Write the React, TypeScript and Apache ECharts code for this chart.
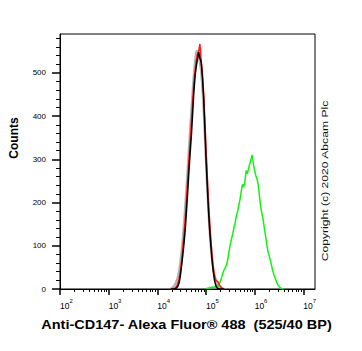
import React, { useEffect, useRef } from "react";
import * as echarts from "echarts";

// Axis structure
const xTickExponents = [2, 3, 4, 5, 6, 7];
const xMinorMultipliers = [2, 3, 4, 5, 6, 7, 8, 9];
const xMinorDecades = [2, 3, 4, 5, 6];
const yTickValues = [0, 100, 200, 300, 400, 500];
const yMinorTickValues = [
  20, 40, 60, 80, 120, 140, 160, 180, 220, 240, 260, 280,
  320, 340, 360, 380, 420, 440, 460, 480, 520, 540, 560, 580,
];

// Histogram bins (log10 of fluorescence) and counts
const histLog = [
  4.275, 4.3, 4.325, 4.35, 4.375, 4.4, 4.425, 4.45, 4.475, 4.5, 4.525, 4.55,
  4.575, 4.6, 4.625, 4.65, 4.675, 4.7, 4.725, 4.75, 4.775, 4.8, 4.825, 4.85,
  4.875, 4.9, 4.925, 4.95, 4.975, 5.0, 5.025, 5.05, 5.075, 5.1, 5.125, 5.15,
  5.175, 5.2, 5.225, 5.25, 5.275, 5.3, 5.325, 5.35, 5.375,
];
const grayCounts = [
  0, 2, 4, 8, 12, 19, 28, 42, 62, 86, 114, 150, 190, 232, 276, 322, 366, 409,
  452, 492, 524, 548, 552, 540, 526, 506, 472, 424, 364, 300, 240, 185, 137, 99,
  69, 46, 31, 21, 14, 9, 6, 4, 2, 1, 0,
];
const redCounts = [
  0, 0, 0, 1, 3, 7, 14, 25, 42, 66, 96, 128, 164, 209, 254, 300, 342, 386,
  432, 474, 504, 528, 544, 550, 567, 530, 502, 456, 394, 324, 262, 204, 154, 113,
  77, 49, 31, 21, 18, 16, 10, 5, 2, 0, 0,
];
const blackCounts = [
  0, 0, 0, 0, 1, 3, 7, 15, 32, 55, 80, 108, 140, 182, 226, 274, 316, 356,
  405, 455, 492, 515, 532, 548, 534, 526, 492, 446, 376, 304, 242, 184, 138, 100,
  66, 40, 20, 9, 3, 1, 0, 0, 0, 0, 0,
];
const greenLog = [
  5.0, 5.025, 5.05, 5.075, 5.1, 5.125, 5.15, 5.175, 5.2, 5.225, 5.25, 5.275,
  5.3, 5.325, 5.35, 5.375, 5.4, 5.425, 5.45, 5.475, 5.5, 5.525, 5.55, 5.575,
  5.6, 5.625, 5.65, 5.675, 5.7, 5.725, 5.75, 5.775, 5.8, 5.825, 5.85, 5.875,
  5.9, 5.925, 5.95, 5.975, 6.0, 6.025, 6.05, 6.075, 6.1, 6.125, 6.15, 6.175,
  6.2, 6.225, 6.25, 6.275, 6.3, 6.325, 6.35, 6.375, 6.4, 6.425, 6.45, 6.475,
  6.5, 6.525, 6.55, 6.575, 6.6,
];
const greenCounts = [
  0, 2, 1, 4, 2, 5, 3, 6, 4, 8, 6, 12, 19, 28, 38, 45, 50, 57, 70, 88, 104,
  116, 128, 142, 154, 170, 179, 194, 208, 226, 242, 236, 250, 274, 266, 279,
  290, 300, 310, 288, 274, 262, 254, 240, 214, 190, 174, 160, 140, 122, 102,
  86, 76, 65, 53, 41, 32, 24, 16, 10, 6, 3, 1, 0, 0,
];

const xTitle = "Anti-CD147- Alexa Fluor® 488  (525/40 BP)";
const yTitle = "Counts";
const copyright = "Copyright (c) 2020 Abcam Plc";

const FONT = '"Liberation Sans", Arial, Helvetica, sans-serif';

export default function App() {
  const ref = useRef<HTMLDivElement>(null);

  useEffect(() => {
    if (!ref.current) return;
    const chart = echarts.init(ref.current, undefined, { renderer: "svg" });

    const xMinorTicks: number[] = [];
    xMinorDecades.forEach((d) =>
      xMinorMultipliers.forEach((m) => xMinorTicks.push(d + Math.log10(m)))
    );

    const pairs = (xs: number[], ys: number[]) => xs.map((x, i) => [x, ys[i]]);

    const lineSeries = (name: string, data: number[][], color: string, width: number, opacity = 1) => ({
      name,
      type: "line",
      data,
      showSymbol: false,
      symbol: "none",
      silent: true,
      xAxisIndex: 0,
      yAxisIndex: 0,
      lineStyle: { color, width, opacity },
    });

    const option: any = {
      animation: false,
      backgroundColor: "#ffffff",
      grid: {
        left: 60,
        top: 34,
        width: 255,
        height: 255,
        show: true,
        borderColor: "#000",
        borderWidth: 1,
        backgroundColor: "transparent",
      },
      xAxis: [
        {
          type: "value",
          min: 2,
          max: 7.24,
          position: "bottom",
          axisLine: { show: true, onZero: false, lineStyle: { color: "#000", width: 1 } },
          axisTick: {
            show: true,
            customValues: xTickExponents,
            length: 6,
            lineStyle: { color: "#000", width: 1.5 },
          },
          axisLabel: {
            customValues: xTickExponents,
            align: "left",
            margin: 9,
            formatter: (v: number) => `{b|10}{s|${v}}`,
            rich: {
              b: { fontSize: 8.5, fontFamily: FONT, color: "#000", verticalAlign: "bottom" },
              s: {
                fontSize: 6,
                fontFamily: FONT,
                color: "#000",
                verticalAlign: "top",
                padding: [0, 0, 6, 0],
              },
            },
          },
          splitLine: { show: false },
        },
        {
          type: "value",
          min: 2,
          max: 7.24,
          position: "bottom",
          axisLine: { show: false, onZero: false },
          axisTick: {
            show: true,
            customValues: xMinorTicks,
            length: 3,
            lineStyle: { color: "#000", width: 1 },
          },
          axisLabel: { show: false },
          splitLine: { show: false },
        },
      ],
      yAxis: [
        {
          type: "value",
          min: 0,
          max: 590,
          position: "left",
          axisLine: { show: true, onZero: false, lineStyle: { color: "#000", width: 1 } },
          axisTick: {
            show: true,
            customValues: yTickValues,
            length: 8,
            lineStyle: { color: "#000", width: 1.5 },
          },
          axisLabel: {
            customValues: yTickValues,
            margin: 14,
            fontSize: 8,
            fontFamily: FONT,
            color: "#000",
          },
          splitLine: { show: false },
        },
        {
          type: "value",
          min: 0,
          max: 590,
          position: "left",
          axisLine: { show: false, onZero: false },
          axisTick: {
            show: true,
            customValues: yMinorTickValues,
            length: 4,
            lineStyle: { color: "#000", width: 1 },
          },
          axisLabel: { show: false },
          splitLine: { show: false },
        },
      ],
      series: [
        lineSeries("gray", pairs(histLog, grayCounts), "#9a9a9a", 2.5, 0.75),
        lineSeries("green", pairs(greenLog, greenCounts), "#14f014", 1.5),
        lineSeries("red", pairs(histLog, redCounts), "#ff1a1a", 1.5),
        lineSeries("black", pairs(histLog, blackCounts), "#000000", 1.5),
      ],
      graphic: [
        {
          type: "text",
          x: 14,
          y: 138,
          rotation: Math.PI / 2,
          style: {
            text: yTitle,
            font: `bold 12px ${FONT}`,
            fill: "#000",
            align: "center",
            verticalAlign: "middle",
          },
        },
        {
          type: "text",
          x: 186.5,
          y: 324.5,
          scaleX: 1.21,
          style: {
            text: xTitle,
            font: `bold 12px ${FONT}`,
            fill: "#000",
            align: "center",
            verticalAlign: "middle",
          },
        },
        {
          type: "text",
          x: 325,
          y: 181,
          rotation: Math.PI / 2,
          scaleX: 1.43,
          style: {
            text: copyright,
            font: `8.5px ${FONT}`,
            fill: "#111",
            align: "center",
            verticalAlign: "middle",
          },
        },
      ],
    };

    chart.setOption(option);
    return () => chart.dispose();
  }, []);

  return (
    <div
      ref={ref}
      style={{ position: "fixed", left: 0, top: 0, width: 362, height: 351, background: "#fff" }}
    />
  );
}
